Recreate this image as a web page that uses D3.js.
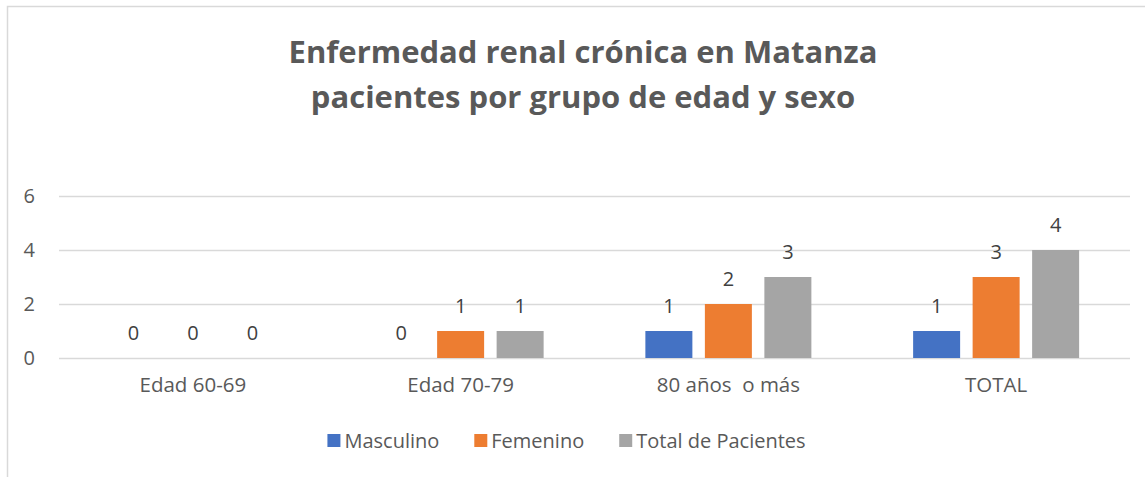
<!DOCTYPE html>
<html><head><meta charset="utf-8">
<script src="https://cdn.jsdelivr.net/npm/d3@7"></script>
<style>body{margin:0;background:#fff}svg{display:block}text{white-space:pre}</style>
</head><body>
<svg id="c" width="1145" height="477"></svg>
<script>
const categories = ["Edad 60-69", "Edad 70-79", "80 años  o más", "TOTAL"];
const seriesNames = ["Masculino", "Femenino", "Total de Pacientes"];
const masculino = [0, 0, 1, 1];
const femenino = [0, 1, 2, 3];
const totalPacientes = [0, 1, 3, 4];
const yTicks = [0, 2, 4, 6];
const titleLines = ["Enfermedad renal crónica en Matanza", "pacientes por grupo de edad y sexo"];
const colors = ["#4472c4", "#ed7d31", "#a5a5a5"];

const seriesValues = [masculino, femenino, totalPacientes];
const FONT = "'Open Sans', sans-serif";
const svg = d3.select("#c");

// chart border
svg.append("rect").attr("x", 7.5).attr("y", 6.5).attr("width", 1150).attr("height", 490)
  .attr("fill", "none").attr("stroke", "#d9d9d9").attr("stroke-width", 1.5);

// title
svg.append("g").selectAll("text").data(titleLines).join("text")
  .attr("x", 583).attr("y", (d, i) => 63 + i * 45)
  .attr("text-anchor", "middle").attr("font-family", FONT).attr("font-weight", "bold")
  .attr("font-size", 31).attr("fill", "#595959").text(d => d);

const plot = {left: 59, right: 1130, top: 196, bottom: 358};
const x0 = d3.scaleBand().domain(categories).range([plot.left, plot.right]).paddingInner(0).paddingOuter(0);
const groupW = 166;
const x1 = d3.scaleBand().domain(seriesNames).range([0, groupW]).paddingInner(12.5 / 59.5).paddingOuter(0);
const y = d3.scaleLinear().domain([0, 6]).range([plot.bottom, plot.top]);

// gridlines
const yAxis = d3.axisLeft(y).tickValues(yTicks).tickSize(-(plot.right - plot.left)).tickPadding(24).tickFormat(d3.format("d"));
const ga = svg.append("g").attr("transform", `translate(${plot.left},0)`).call(yAxis);
ga.select(".domain").remove();
ga.selectAll(".tick line").attr("stroke", "#d9d9d9").attr("stroke-width", 1.3);
ga.selectAll(".tick text").attr("font-family", FONT).attr("font-size", 20).attr("fill", "#595959");

// x axis labels
const xAxis = d3.axisBottom(x0).tickSize(0).tickPadding(19);
const gx = svg.append("g").attr("transform", `translate(0,${plot.bottom})`).call(xAxis);
gx.select(".domain").remove();
gx.selectAll(".tick text").attr("font-family", FONT).attr("font-size", 20.5).attr("fill", "#595959");

// bars
const groups = svg.append("g").selectAll("g").data(categories).join("g")
  .attr("transform", d => `translate(${x0(d) + x0.bandwidth() / 2 - groupW / 2},0)`);
const cells = groups.selectAll("g").data((c, ci) => seriesNames.map((s, si) => ({s, si, v: seriesValues[si][ci]}))).join("g");
cells.append("rect")
  .attr("x", d => x1(d.s)).attr("width", x1.bandwidth())
  .attr("y", d => y(d.v)).attr("height", d => y(0) - y(d.v))
  .attr("fill", d => colors[d.si]);
cells.append("text")
  .attr("x", d => x1(d.s) + x1.bandwidth() / 2).attr("y", d => y(d.v) - 18)
  .attr("text-anchor", "middle").attr("font-family", FONT).attr("font-size", 20)
  .attr("fill", "#404040").text(d => d.v);

// legend
const leg = svg.append("g");
let lx = 0;
seriesNames.forEach((s, i) => {
  const g = leg.append("g");
  g.append("rect").attr("x", 0).attr("y", -7).attr("width", 13).attr("height", 13).attr("fill", colors[i]);
  const t = g.append("text").attr("x", 17).attr("y", 7).attr("font-family", FONT).attr("font-size", 20)
    .attr("fill", "#595959").text(s);
  const w = 17 + t.node().getComputedTextLength();
  g.attr("transform", `translate(${lx},0)`);
  lx += w + 35;
});
const totalW = lx - 35;
leg.attr("transform", `translate(${566.5 - totalW / 2},441)`);
</script>
</body></html>
